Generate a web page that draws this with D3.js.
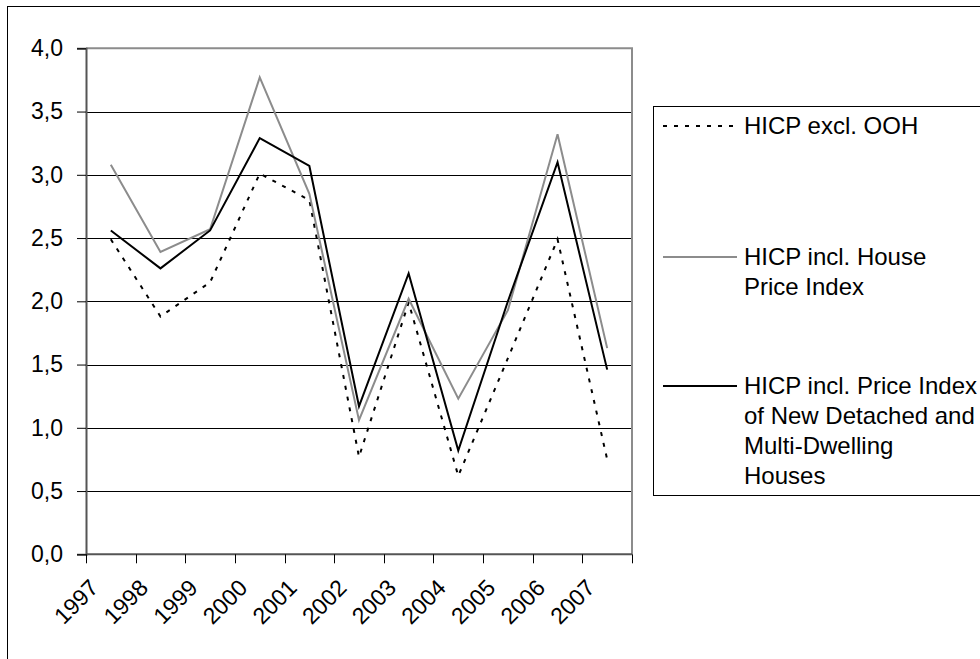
<!DOCTYPE html>
<html>
<head>
<meta charset="utf-8">
<script src="https://cdn.jsdelivr.net/npm/d3@7"></script>
<style>
  html, body { margin: 0; padding: 0; background: #fff; }
  svg { display: block; font-family: "Liberation Sans", Arial, sans-serif; }
</style>
</head>
<body>
<svg id="chart" width="980" height="659"></svg>
<script>
// Annual HICP inflation (%) under three treatments of owner-occupied housing
const years = ["1997", "1998", "1999", "2000", "2001", "2002", "2003", "2004", "2005", "2006", "2007"];
const hicpExclOOH = [2.49, 1.88, 2.15, 3.01, 2.80, 0.77, 1.99, 0.62, 1.55, 2.49, 0.75];
const hicpInclHousePrice = [3.08, 2.39, 2.57, 3.77, 2.85, 1.06, 2.02, 1.23, 1.93, 3.32, 1.63];
const hicpInclNewHouses = [2.56, 2.26, 2.56, 3.29, 3.07, 1.17, 2.22, 0.82, 2.00, 3.10, 1.46];
const yTicks = [0, 0.5, 1, 1.5, 2, 2.5, 3, 3.5, 4];
const seriesNames = [
  ["HICP excl. OOH"],
  ["HICP incl. House", "Price Index"],
  ["HICP incl. Price Index", "of New Detached and", "Multi-Dwelling", "Houses"]
];

const series = [
  { values: hicpExclOOH, color: "#000", width: 2, dash: "4,7" },
  { values: hicpInclHousePrice, color: "#8c8c8c", width: 2, dash: null },
  { values: hicpInclNewHouses, color: "#000", width: 2, dash: null }
];

const svg = d3.select("#chart");
const axisFont = 23;
const legendFont = 24;
const plot = { left: 86, right: 632, top: 48.3, bottom: 554.3 };

// outer chart frame
svg.append("rect")
  .attr("x", 7.5).attr("y", 6.5)
  .attr("width", 1100).attr("height", 800)
  .attr("fill", "#fff").attr("stroke", "#000").attr("stroke-width", 1);

const x = d3.scaleBand().domain(years).range([plot.left, plot.right]).padding(0);
const y = d3.scaleLinear().domain([0, 4]).range([plot.bottom, plot.top]);

// horizontal gridlines
svg.append("g").selectAll("line")
  .data(yTicks.filter(t => t > 0 && t < 4))
  .join("line")
  .attr("x1", plot.left).attr("x2", plot.right)
  .attr("y1", d => Math.round(y(d)) + 0.5).attr("y2", d => Math.round(y(d)) + 0.5)
  .attr("stroke", "#000").attr("stroke-width", 1);

// plot area border (top and right)
svg.append("path")
  .attr("d", `M${plot.left},${plot.top}H${plot.right}V${plot.bottom}`)
  .attr("fill", "none").attr("stroke", "#8c8c8c").attr("stroke-width", 2);

// y axis
const yAxis = d3.axisLeft(y).tickValues(yTicks).tickSize(9).tickPadding(14)
  .tickFormat(d => d3.format(".1f")(d).replace(".", ","));
const gy = svg.append("g").attr("transform", `translate(${plot.left},0)`).call(yAxis);
gy.select(".domain").attr("stroke", "#555").attr("stroke-width", 2);
gy.selectAll(".tick line").attr("stroke", "#000");
gy.selectAll(".tick text")
  .attr("font-size", axisFont).attr("fill", "#000")
  .attr("font-family", "Liberation Sans, Arial, sans-serif");

// x axis: ticks between categories, labels rotated
const gx = svg.append("g").attr("transform", `translate(0,${plot.bottom})`);
gx.append("line")
  .attr("x1", plot.left).attr("x2", plot.right)
  .attr("y1", 0).attr("y2", 0)
  .attr("stroke", "#555").attr("stroke-width", 2);
const boundaries = years.map(d => x(d)).concat([x(years[years.length - 1]) + x.bandwidth()]);
gx.selectAll("line.tk").data(boundaries).join("line")
  .attr("class", "tk")
  .attr("x1", d => Math.round(d) + 0.5).attr("x2", d => Math.round(d) + 0.5)
  .attr("y1", 0).attr("y2", 9)
  .attr("stroke", "#000").attr("stroke-width", 1);
gx.selectAll("text").data(years).join("text")
  .attr("transform", d => `translate(${x(d) + x.bandwidth() / 2 - 11},35) rotate(-45)`)
  .attr("text-anchor", "end")
  .attr("font-size", axisFont)
  .attr("fill", "#000")
  .text(d => d);

// series lines
const line = d3.line()
  .x((d, i) => x(years[i]) + x.bandwidth() / 2)
  .y(d => y(d));
svg.append("g").selectAll("path")
  .data(series)
  .join("path")
  .attr("d", s => line(s.values))
  .attr("fill", "none")
  .attr("stroke", s => s.color)
  .attr("stroke-width", s => s.width)
  .attr("stroke-dasharray", s => s.dash)
  .attr("stroke-linejoin", "miter");

// legend
const legend = svg.append("g");
legend.append("rect")
  .attr("x", 653.5).attr("y", 106.5)
  .attr("width", 400).attr("height", 389)
  .attr("fill", "#fff").attr("stroke", "#000").attr("stroke-width", 1);
const entryY = [126, 257, 386];
const lineH = 30;
series.forEach((s, i) => {
  legend.append("line")
    .attr("x1", 663).attr("x2", 737)
    .attr("y1", entryY[i]).attr("y2", entryY[i])
    .attr("stroke", s.color).attr("stroke-width", s.width)
    .attr("stroke-dasharray", s.dash);
  const t = legend.append("text")
    .attr("x", 744).attr("y", entryY[i])
    .attr("font-size", legendFont).attr("fill", "#000");
  seriesNames[i].forEach((ln, j) => {
    t.append("tspan")
      .attr("x", 744).attr("y", entryY[i] + j * lineH)
      .attr("dy", "0.35em")
      .text(ln);
  });
});
</script>
</body>
</html>
